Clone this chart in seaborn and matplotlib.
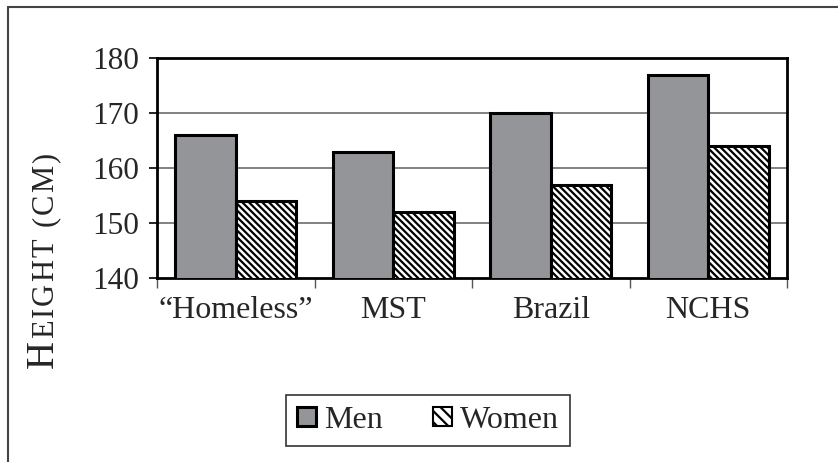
import matplotlib
matplotlib.use('Agg')
import matplotlib.pyplot as plt
from matplotlib.patches import Patch
from matplotlib.lines import Line2D
import numpy as np
import pandas as pd
import seaborn as sns

# %%
'''Data'''

groups = ['\u201cHomeless\u201d', 'MST', 'Brazil', 'NCHS']
men = [166, 163, 170, 177]
women = [154, 152, 157, 164]
sexes = ['Men', 'Women']
yticks = [140, 150, 160, 170, 180]

data = pd.DataFrame({
    'group': groups * 2,
    'sex': ['Men'] * len(groups) + ['Women'] * len(groups),
    'height': men + women,
})

# %%
'''Style'''

sns.set_style('white')
plt.rcParams['font.family'] = ['Liberation Serif', 'DejaVu Serif']
plt.rcParams['hatch.linewidth'] = 1.6
plt.rcParams['hatch.color'] = 'black'

W, H = 838, 462
fig = plt.figure(figsize=(W / 100, H / 100), dpi=100)
ax = fig.add_axes([157 / W, 1 - 278 / H, (787 - 157) / W, (278 - 58) / H])

# %%
'''Bar Plot'''

sns.barplot(data=data, x='group', y='height', hue='sex', order=groups,
            hue_order=sexes, palette=['#939598', 'white'], width=0.77,
            edgecolor='black', linewidth=2.2, saturation=1, ax=ax,
            legend=False, zorder=3)

for bar in ax.containers[1]:
    bar.set_hatch('\\\\\\\\\\')

ax.set_ylim(140, 180)
ax.set_yticks(yticks)
ax.set_xlim(-0.5, len(groups) - 0.5)
ax.set_xlabel('')
ax.set_ylabel('')
for y in yticks[1:-1]:
    ax.axhline(y, color='#777777', lw=1.3, zorder=1)

for s in ax.spines.values():
    s.set_color('black')
    s.set_linewidth(2)

ax.tick_params(axis='y', which='major', direction='out', length=6, width=1.2,
               color='black', labelsize=22.5, pad=7, left=True)
ax.tick_params(axis='x', which='major', length=0, labelsize=23, pad=13)
ax.set_xticks(np.arange(-0.5, len(groups)), minor=True)
ax.tick_params(axis='x', which='minor', direction='out', length=7, width=1,
               color='#555555', bottom=True)

# %%
'''Y label in small caps, letter by letter'''

x0 = 53 / W
y = 368
fig.canvas.draw()
for i, ch in enumerate('HEIGHT (CM)'):
    size = 28 if i == 0 else 22
    t = fig.text(x0, 1 - y / H, ch, fontsize=size, rotation=90,
                 rotation_mode='anchor', ha='left', va='baseline')
    fig.canvas.draw()
    ext = t.get_window_extent()
    adv = ext.height if ch != ' ' else 8
    y -= adv + 2.0

# %%
'''Legend'''

handles = [Patch(facecolor='#939598', edgecolor='black', lw=2.2),
           Patch(facecolor='white', edgecolor='black', lw=1.5, hatch='\\\\\\')]
leg = fig.legend(handles, sexes, loc='center', bbox_to_anchor=(428 / W, 1 - 420.5 / H),
                 ncol=2, fontsize=23, frameon=True, fancybox=False,
                 handlelength=0.6, handleheight=0.56, handletextpad=0.25,
                 columnspacing=1.55, borderpad=0.35, borderaxespad=0)
leg.get_frame().set_edgecolor('black')
leg.get_frame().set_linewidth(1.2)

# %%
'''Outer border'''

fig.add_artist(Line2D([8 / W, 1], [1 - 7 / H, 1 - 7 / H], color='#444444', lw=1.5))
fig.add_artist(Line2D([8 / W, 8 / W], [0, 1 - 7 / H], color='#444444', lw=1.5))

fig.savefig('out.png', dpi=100, facecolor='white')
